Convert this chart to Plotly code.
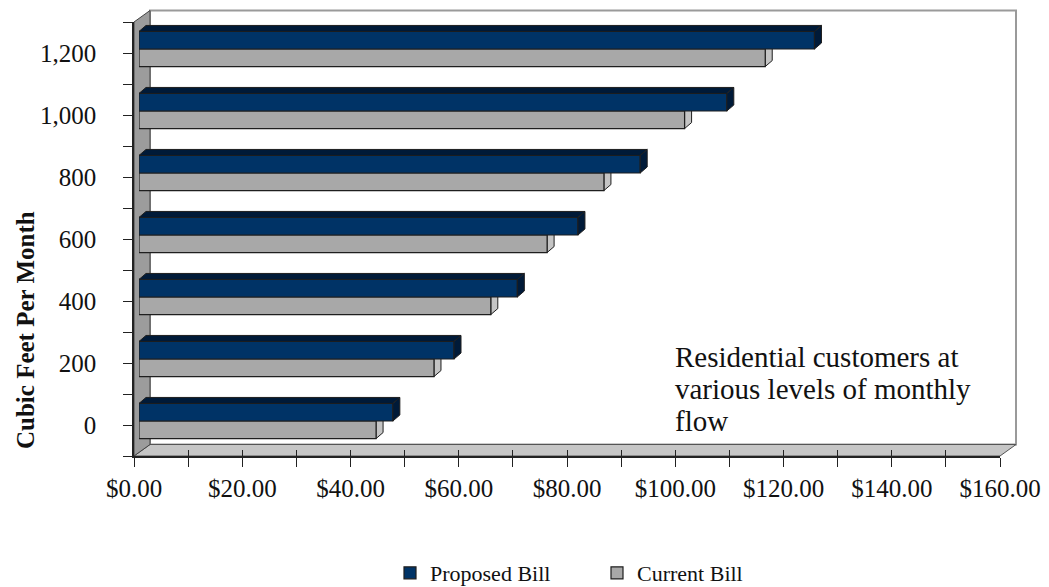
import plotly.graph_objects as go

# ---------------- data ----------------
flow = [0, 200, 400, 600, 800, 1000, 1200]
flow_labels = ["0", "200", "400", "600", "800", "1,000", "1,200"]
proposed = [46.9, 58.2, 69.9, 81.1, 92.6, 108.6, 124.8]
current = [43.8, 54.5, 65.0, 75.4, 85.9, 100.8, 115.7]
x_tick_vals = [0, 20, 40, 60, 80, 100, 120, 140, 160]
x_tick_text = ["$0.00", "$20.00", "$40.00", "$60.00", "$80.00",
               "$100.00", "$120.00", "$140.00", "$160.00"]
note_lines = ["Residential customers at", "various levels of monthly", "flow"]

# ---------------- geometry / style ----------------
W, H = 1049, 587
FONT = "Liberation Serif"
NAVY = "#003366"
NAVY_DARK = "#001a38"
GRAY = "#a8a8a8"
GRAY_SIDE = "#c4c4c4"
EDGE = "#1e1e1e"

FX0, FX1 = 134, 1000      # front x-axis pixel span
FY0, FY1 = 456, 22        # front y-axis pixel span (bottom, top)
BAR_DX, BAR_DY = 5, 4     # bar plane offset (px)
WALL_DX, WALL_DY = 16, 11.5
FACE_DX, FACE_DY = 7, 6   # bar depth (px)
XR = [0, 160]
YR = [-100, 1300]
BARGAP = 0.434


def px(x):
    return x / W


def py(y):
    return (H - y) / H


x_scale = (FX1 - FX0) / (XR[1] - XR[0])
y_scale = (FY0 - FY1) / (YR[1] - YR[0])
fdx = FACE_DX / x_scale
fdy = FACE_DY / y_scale
step = flow[1] - flow[0]
bw = step * (1 - BARGAP) / 2

fig = go.Figure()
# invisible traces that activate the front axes (xy) and the inside-tick axis (x3)
fig.add_trace(go.Scatter(x=[XR[0]], y=[YR[0]], xaxis="x", yaxis="y", mode="markers",
                         marker=dict(opacity=0), showlegend=False, hoverinfo="skip"))
fig.add_trace(go.Scatter(x=[XR[0]], y=[YR[0]], xaxis="x3", yaxis="y", mode="markers",
                         marker=dict(opacity=0), showlegend=False, hoverinfo="skip"))
fig.add_trace(go.Bar(
    y=flow, x=current, orientation="h", name="Current Bill",
    marker=dict(color=GRAY, line=dict(color=EDGE, width=1.2)),
    xaxis="x2", yaxis="y2", legendrank=2,
))
fig.add_trace(go.Bar(
    y=flow, x=proposed, orientation="h", name="Proposed Bill",
    marker=dict(color=NAVY, line=dict(color=EDGE, width=1.2)),
    xaxis="x2", yaxis="y2", legendrank=1,
))

shapes = []


def poly(pts):
    return "M " + " L ".join(f"{a},{b}" for a, b in pts) + " Z"


# walls and floor (paper coords)
floor = [(px(FX0), py(FY0)), (px(FX1), py(FY0)),
         (px(FX1 + WALL_DX), py(FY0 - WALL_DY)), (px(FX0 + WALL_DX), py(FY0 - WALL_DY))]
left_wall = [(px(FX0), py(FY0)), (px(FX0), py(FY1)),
             (px(FX0 + WALL_DX), py(FY1 - WALL_DY)), (px(FX0 + WALL_DX), py(FY0 - WALL_DY))]
back_wall = [(px(FX0 + WALL_DX), py(FY0 - WALL_DY)), (px(FX0 + WALL_DX), py(FY1 - WALL_DY)),
             (px(FX1 + WALL_DX), py(FY1 - WALL_DY)), (px(FX1 + WALL_DX), py(FY0 - WALL_DY))]
shapes.append(dict(type="path", xref="paper", yref="paper", path=poly(back_wall),
                   fillcolor="white", line=dict(color="#9a9a9a", width=2), layer="below"))
shapes.append(dict(type="path", xref="paper", yref="paper", path=poly(floor),
                   fillcolor="#c6c6c6", line=dict(color="#555555", width=1), layer="below"))
shapes.append(dict(type="path", xref="paper", yref="paper", path=poly(left_wall),
                   fillcolor="#9c9c9c", line=dict(color="#444444", width=1), layer="below"))

# 3D faces of the bars, derived from data
for c, vc, vp in zip(flow, current, proposed):
    shapes.append(dict(type="path", xref="x2", yref="y2", layer="below",
                       path=poly([(vc, c - bw), (vc, c), (vc + fdx, c + fdy), (vc + fdx, c - bw + fdy)]),
                       fillcolor=GRAY_SIDE, line=dict(color=EDGE, width=1)))
    shapes.append(dict(type="path", xref="x2", yref="y2", layer="above",
                       path=poly([(0, c + bw), (vp, c + bw), (vp + fdx, c + bw + fdy), (fdx, c + bw + fdy)]),
                       fillcolor=NAVY_DARK, line=dict(color=EDGE, width=1)))
    shapes.append(dict(type="path", xref="x2", yref="y2", layer="above",
                       path=poly([(vp, c), (vp, c + bw), (vp + fdx, c + bw + fdy), (vp + fdx, c + fdy)]),
                       fillcolor=NAVY_DARK, line=dict(color=EDGE, width=1)))

annotations = [dict(
    text="<b>Cubic Feet Per Month</b>", textangle=-90, xref="paper", yref="paper",
    x=px(25), y=py(330), showarrow=False, xanchor="center", yanchor="middle",
    font=dict(family=FONT, size=25, color="#111111"),
)]
for i, line in enumerate(note_lines):
    annotations.append(dict(
        text=line, xref="paper", yref="paper", x=px(673), y=py(357 + i * 32),
        showarrow=False, xanchor="left", yanchor="middle", align="left",
        font=dict(family=FONT, size=29, color="#111111"),
    ))

axis_font = dict(family=FONT, size=25, color="#111111")
fig.update_layout(
    width=W, height=H, autosize=False,
    margin=dict(l=0, r=0, t=0, b=0, autoexpand=False),
    paper_bgcolor="white", plot_bgcolor="rgba(0,0,0,0)",
    barmode="group", bargap=BARGAP, bargroupgap=0,
    font=dict(family=FONT, color="#111111"),
    shapes=shapes, annotations=annotations,
    showlegend=True,
    legend=dict(orientation="h", x=px(390), y=-0.012, xanchor="left", yanchor="bottom",
                font=dict(family=FONT, size=22, color="#111111"),
                entrywidth=162, entrywidthmode="pixels",
                bgcolor="rgba(0,0,0,0)", traceorder="normal"),
    xaxis=dict(domain=[px(FX0), px(FX1)], range=XR, anchor="y", automargin=False,
               tickvals=x_tick_vals, ticktext=x_tick_text, tickfont=axis_font,
               ticks="outside", ticklen=9, tickwidth=1.3, tickcolor="#222222",
               minor=dict(dtick=10, tick0=0, ticks="outside", ticklen=9, tickwidth=1.3,
                          tickcolor="#222222"),
               showline=True, linecolor="#222222", linewidth=1.5,
               showgrid=False, zeroline=False, ticklabelstandoff=0),
    xaxis3=dict(overlaying="x", range=XR, anchor="y", tickmode="linear", dtick=10, tick0=0,
                ticks="inside", ticklen=6, tickwidth=1.3, tickcolor="#222222", automargin=False,
                showticklabels=False, showgrid=False, zeroline=False, showline=False),
    yaxis=dict(domain=[py(FY0), py(FY1)], range=YR, anchor="x", automargin=False,
               tickvals=flow, ticktext=flow_labels, tickfont=axis_font,
               ticks="outside", ticklen=9, tickwidth=1.3, tickcolor="#222222",
               minor=dict(dtick=100, tick0=-100, ticks="outside", ticklen=9, tickwidth=1.3,
                          tickcolor="#222222"),
               showline=True, linecolor="#222222", linewidth=1.5,
               showgrid=False, zeroline=False, ticklabelstandoff=22),
    xaxis2=dict(domain=[px(FX0 + BAR_DX), px(FX1 + BAR_DX)], range=XR, anchor="y2",
                visible=False, showgrid=False, automargin=False),
    yaxis2=dict(domain=[py(FY0 - BAR_DY), py(FY1 - BAR_DY)], range=YR, anchor="x2",
                visible=False, showgrid=False, automargin=False),
)

fig.write_html("out.html")
